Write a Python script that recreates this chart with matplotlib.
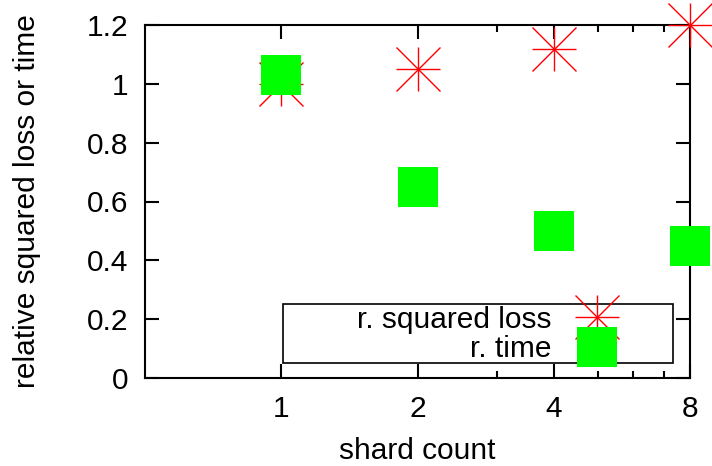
import matplotlib
matplotlib.use('Agg')
import matplotlib.pyplot as plt
from matplotlib.ticker import FixedLocator, FixedFormatter, NullFormatter
from matplotlib.patches import Rectangle

# data
shards = [1, 2, 4, 8]
sq_loss = [1.00, 1.05, 1.12, 1.20]
rel_time = [1.03, 0.65, 0.50, 0.45]

x_ticks = [1, 2, 4, 8]
x_tick_labels = ['1', '2', '4', '8']
x_minor = [3, 5, 6, 7]
y_ticks = [0, 0.2, 0.4, 0.6, 0.8, 1.0, 1.2]
y_tick_labels = ['0', '0.2', '0.4', '0.6', '0.8', '1', '1.2']

plt.rcParams['font.family'] = ['Liberation Sans', 'DejaVu Sans']
plt.rcParams['font.size'] = 21.5

fig = plt.figure(figsize=(7.12, 4.66), dpi=100)
ax = fig.add_axes([145 / 712, 88 / 466, 545 / 712, 353 / 466])

ax.set_xscale('log', base=2)
ax.set_xlim(0.5, 8)
ax.set_ylim(0, 1.2)

red = '#ff0000'
green = '#00ff00'

# gnuplot style asterisk: plus and cross on top of each other
p1, = ax.plot(shards, sq_loss, ls='none', marker='+', ms=31, mew=1.0, color=red, clip_on=False, zorder=3)
p2, = ax.plot(shards, sq_loss, ls='none', marker='x', ms=31, mew=1.0, color=red, clip_on=False, zorder=3)
sq, = ax.plot(shards, rel_time, ls='none', marker='s', ms=29, mew=0, color=green, clip_on=False, zorder=4)

ax.xaxis.set_major_locator(FixedLocator(x_ticks))
ax.xaxis.set_major_formatter(FixedFormatter(x_tick_labels))
ax.xaxis.set_minor_locator(FixedLocator(x_minor))
ax.xaxis.set_minor_formatter(NullFormatter())
ax.yaxis.set_major_locator(FixedLocator(y_ticks))
ax.yaxis.set_major_formatter(FixedFormatter(y_tick_labels))
ax.yaxis.set_minor_locator(FixedLocator([]))

ax.tick_params(which='both', direction='in', top=True, right=True, width=1.5, color='black')
ax.tick_params(which='major', length=10)
ax.tick_params(which='minor', length=5)
ax.tick_params(axis='x', pad=12)
ax.tick_params(axis='y', pad=12)
for s in ax.spines.values():
    s.set_linewidth(1.5)

ax.set_xlabel('shard count', labelpad=10)
ax.set_ylabel('relative squared loss or time', labelpad=33)

# key box
ax.add_patch(Rectangle((0.253, 0.0425), 0.716, 0.167, transform=ax.transAxes,
                       fill=False, lw=1.2, ec='black', zorder=2))
leg = ax.legend([(p1, p2), sq], ['r. squared loss', 'r. time'], loc='upper right',
                bbox_to_anchor=(0.873, 0.205), frameon=False, markerfirst=False,
                borderpad=0, borderaxespad=0, handlelength=1.6, handletextpad=0.72,
                labelspacing=0.05)
leg.set_zorder(5)

fig.savefig('out.png', dpi=100)
